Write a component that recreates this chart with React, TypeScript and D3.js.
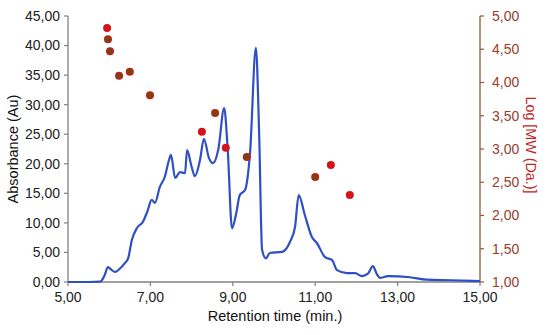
import React from 'react';
import * as d3 from 'd3';

// Absorbance trace (time in min, absorbance in Au)
const traceTime = [5.0, 5.5, 5.78, 5.88, 5.97, 6.05, 6.14, 6.25, 6.38, 6.46, 6.55, 6.67, 6.82, 6.93, 7.03, 7.11, 7.23, 7.35, 7.45, 7.5, 7.6, 7.72, 7.84, 7.89, 8.0, 8.08, 8.2, 8.3, 8.42, 8.52, 8.65, 8.79, 8.88, 8.98, 9.08, 9.17, 9.3, 9.42, 9.56, 9.64, 9.71, 9.8, 9.9, 10.2, 10.39, 10.51, 10.6, 10.75, 10.92, 11.04, 11.24, 11.41, 11.53, 11.77, 11.97, 12.13, 12.28, 12.4, 12.5, 12.57, 12.77, 13.3, 13.7, 14.3, 15.0];
const absorbance = [0, 0, 0.05, 1.0, 2.5, 2.1, 1.7, 2.2, 3.2, 4.0, 7.1, 9.1, 10.2, 12.0, 13.9, 13.4, 16.1, 17.8, 20.6, 21.5, 17.6, 18.6, 18.4, 22.3, 19.5, 17.9, 20.5, 24.2, 21.0, 20.1, 22.5, 29.4, 22.0, 9.1, 11.5, 14.7, 15.6, 22.0, 39.6, 25.0, 5.5, 4.0, 4.9, 5.1, 6.8, 9.3, 14.7, 11.3, 7.6, 6.6, 4.2, 3.7, 2.0, 1.5, 1.5, 1.0, 1.4, 2.7, 1.3, 0.7, 1.0, 0.8, 0.4, 0.3, 0.15];

// Log MW points
const mwTime = [5.95, 5.97, 6.02, 6.24, 6.5, 6.99, 8.25, 8.57, 8.83, 9.34, 11.0, 11.38, 11.84];
const logMw = [4.82, 4.65, 4.47, 4.1, 4.16, 3.81, 3.26, 3.54, 3.02, 2.88, 2.58, 2.76, 2.31];
const mwGroup = ['red', 'brown', 'brown', 'brown', 'brown', 'brown', 'red', 'brown', 'red', 'brown', 'brown', 'red', 'red'];

const xTicks = [5, 7, 9, 11, 13, 15];
const yTicks = [0, 5, 10, 15, 20, 25, 30, 35, 40, 45];
const y2Ticks = [1, 1.5, 2, 2.5, 3, 3.5, 4, 4.5, 5];

const fmt = (v: number) => v.toFixed(2).replace('.', ',');

export default function App() {
  const width = 550;
  const height = 335;
  const left = 68;
  const right = 480;
  const top = 16;
  const bottom = 282;

  const x = d3.scaleLinear().domain([5, 15]).range([left, right]);
  const y = d3.scaleLinear().domain([0, 45]).range([bottom, top]);
  const y2 = d3.scaleLinear().domain([1, 5]).range([bottom, top]);

  const line = d3.line<number>()
    .x((d, i) => x(traceTime[i]))
    .y(d => y(d))
    .curve(d3.curveMonotoneX);

  const font = '"Liberation Sans", Arial, sans-serif';
  const grey = '#808080';
  const brownAxis = '#8c5a3a';

  return (
    <svg width={width} height={height} style={{ position: 'absolute', left: 0, top: 0, background: '#fff' }} fontFamily={font}>
      {/* left axis */}
      <line x1={left} x2={left} y1={top} y2={bottom} stroke={grey} strokeWidth={1.3} />
      {yTicks.map(t => (
        <g key={'y' + t}>
          <line x1={left - 4} x2={left} y1={y(t)} y2={y(t)} stroke={grey} strokeWidth={1.2} />
          <text x={left - 8} y={y(t)} dy="0.35em" textAnchor="end" fontSize={14} fill="#222">{fmt(t)}</text>
        </g>
      ))}
      <text transform={`translate(13,${(top + bottom) / 2}) rotate(-90)`} textAnchor="middle" dy="0.35em" fontSize={14.5} fill="#111">Absorbance (Au)</text>

      {/* bottom axis */}
      <line x1={left} x2={right} y1={bottom} y2={bottom} stroke={grey} strokeWidth={1.3} />
      {xTicks.map(t => (
        <g key={'x' + t}>
          <line x1={x(t)} x2={x(t)} y1={bottom} y2={bottom + 4} stroke={grey} strokeWidth={1.2} />
          <text x={x(t)} y={bottom + 15} dy="0.35em" textAnchor="middle" fontSize={14} fill="#222">{fmt(t)}</text>
        </g>
      ))}
      <text x={275} y={316} dy="0.35em" textAnchor="middle" fontSize={14.5} fill="#111">Retention time (min.)</text>

      {/* right axis */}
      <line x1={right} x2={right} y1={top} y2={bottom} stroke={brownAxis} strokeWidth={1.3} />
      {y2Ticks.map(t => (
        <g key={'r' + t}>
          <line x1={right} x2={right + 4} y1={y2(t)} y2={y2(t)} stroke={brownAxis} strokeWidth={1.2} />
          <text x={right + 12} y={y2(t)} dy="0.35em" textAnchor="start" fontSize={14} fill="#9a3c2a">{fmt(t)}</text>
        </g>
      ))}
      <text transform={`translate(531,145) rotate(90)`} textAnchor="middle" dy="0.35em" fontSize={14.3} fill="#c0281e">Log [MW (Da.)]</text>

      {/* absorbance trace */}
      <path d={line(absorbance) || ''} fill="none" stroke="#2f4fc4" strokeWidth={2.2} strokeLinejoin="round" />

      {/* MW points */}
      {logMw.map((v, i) => (
        <g key={'p' + i}>
          <circle cx={x(mwTime[i])} cy={y2(v)} r={4} fill="#d4141c" />
          {mwGroup[i] === 'brown' && <circle cx={x(mwTime[i])} cy={y2(v)} r={3} fill="#7a4412" />}
        </g>
      ))}
    </svg>
  );
}
